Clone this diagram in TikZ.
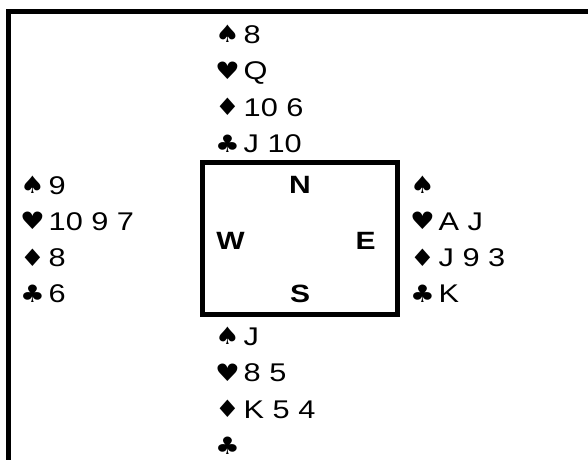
\documentclass[tikz,border=0pt]{standalone}
\usepackage{fontspec}
\setmainfont{Liberation Sans}[FakeStretch=1.2]
\newfontfamily\suitfont{DejaVu Sans}[FakeStretch=1.15]
\newcommand{\suit}[1]{\makebox[28.5pt][l]{\raisebox{0.5pt}{\suitfont\fontsize{24}{30}\selectfont #1}}}

\begin{document}
\begin{tikzpicture}[x=1pt,y=-1pt,
        card/.style={anchor=base west,inner sep=0pt,font=\fontsize{25.6}{32}\selectfont},
        seat/.style={anchor=base,inner sep=0pt,font=\fontsize{25}{30}\selectfont\bfseries}]
    \useasboundingbox (0,0) rectangle (588,459);

    % Frame (open at right and bottom)
    \draw[line width=5pt] (590,11.5) -- (8.5,11.5) -- (8.5,461);

    % The table
    \node[draw,line width=5pt,inner sep=0pt,minimum width=195pt,minimum height=152pt] (table) at (300,238.5) {};
    \node[seat] (north) at (300,193) {N};
    \node[seat] (west) at (230.5,249) {W};
    \node[seat] (east) at (365.5,249) {E};
    \node[seat] (south) at (300,302) {S};

    % North hand
    \node[card] (n1) at (215,43) {\suit{♠}8};
    \node[card] (n2) at (215,79.5) {\suit{♥}Q};
    \node[card] (n3) at (215,116) {\suit{♦}10 6};
    \node[card] (n4) at (215,152.5) {\suit{♣}J 10};

    % West hand
    \node[card] (w1) at (20,194) {\suit{♠}9};
    \node[card] (w2) at (20,230) {\suit{♥}10 9 7};
    \node[card] (w3) at (20,266.5) {\suit{♦}8};
    \node[card] (w4) at (20,302.5) {\suit{♣}6};

    % East hand
    \node[card] (e1) at (410,194) {\suit{♠}};
    \node[card] (e2) at (410,230) {\suit{♥}A J};
    \node[card] (e3) at (410,266.5) {\suit{♦}J 9 3};
    \node[card] (e4) at (410,302.5) {\suit{♣}K};

    % South hand
    \node[card] (s1) at (215,345) {\suit{♠}J};
    \node[card] (s2) at (215,381.5) {\suit{♥}8 5};
    \node[card] (s3) at (215,418) {\suit{♦}K 5 4};
    \node[card] (s4) at (215,454.5) {\suit{♣}};

\end{tikzpicture}
\end{document}
